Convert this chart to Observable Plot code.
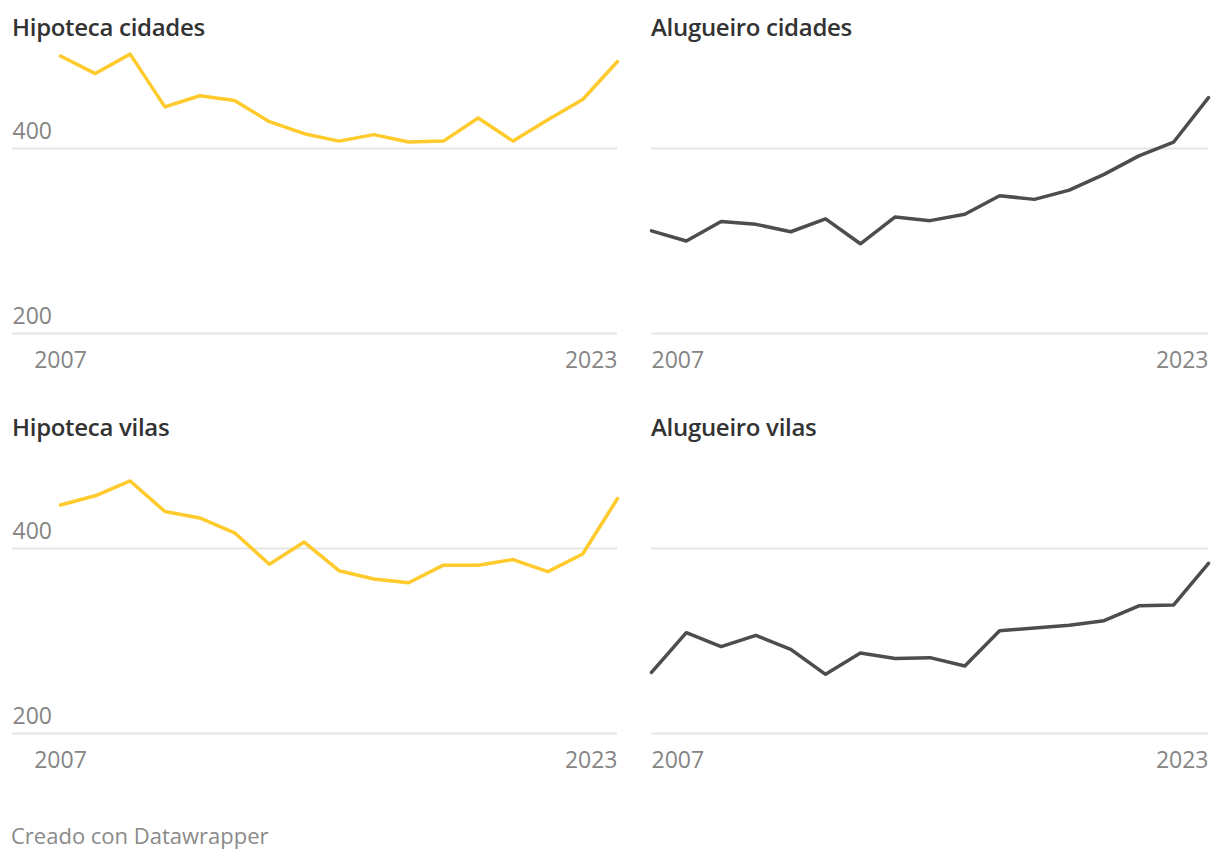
<!DOCTYPE html>
<html>
<head>
<meta charset="utf-8">
<script src="https://cdn.jsdelivr.net/npm/d3@7"></script>
<script src="https://cdn.jsdelivr.net/npm/@observablehq/plot@0.6"></script>
<style>
  body { margin: 0; background: #fff; }
  #root { position: relative; width: 1220px; height: 860px; font-family: "Open Sans", sans-serif; background: #fff; overflow: hidden; }
  .title { position: absolute; font-size: 24px; font-weight: 600; color: #333; line-height: 24px; white-space: nowrap; letter-spacing: -0.3px; }
  .panel { position: absolute; }
  .footer { position: absolute; left: 11px; top: 824px; font-size: 22px; color: #8a8a8a; line-height: 22px; white-space: nowrap; }
</style>
</head>
<body>
<div id="root"></div>
<script>
// ---- data ----
const years = [2007, 2008, 2009, 2010, 2011, 2012, 2013, 2014, 2015, 2016, 2017, 2018, 2019, 2020, 2021, 2022, 2023];
const hipotecaCidades = [500, 481, 502, 445, 457, 452, 429, 416, 408, 415, 407, 408, 433, 408, 431, 453, 494];
const alugueiroCidades = [311, 300, 321, 318, 310, 324, 297, 326, 322, 329, 349, 345, 355, 372, 392, 407, 455];
const hipotecaVilas = [447, 457, 473, 440, 433, 417, 383, 407, 376, 367, 363, 382, 382, 388, 375, 394, 454];
const alugueiroVilas = [266, 309, 294, 306, 291, 264, 287, 281, 282, 273, 311, 314, 317, 322, 338, 339, 384];
const yTicks = [200, 400];
const xTicks = [2007, 2023];
const titles = ["Hipoteca cidades", "Alugueiro cidades", "Hipoteca vilas", "Alugueiro vilas"];
const footerText = "Creado con Datawrapper";
const colors = { hipoteca: "#ffca2c", alugueiro: "#4d4d4d" };

const root = document.getElementById("root");

function addPanel({ title, values, color, left, top, width, xRange, mLeft, mRight, showY, firstAnchor }) {
  const t = document.createElement("div");
  t.className = "title";
  t.textContent = title;
  t.style.left = (left + (showY ? 12 : 31)) + "px";
  t.style.top = (top + 15) + "px";
  root.appendChild(t);

  const data = years.map((year, i) => ({ year, value: values[i] }));
  const chart = Plot.plot({
    width,
    height: 340,
    marginLeft: mLeft,
    marginRight: mRight,
    marginTop: 0,
    marginBottom: 0,
    x: { domain: [2007, 2023], range: xRange, axis: null },
    y: { domain: [200, 400], range: [288, 103], axis: null },
    style: { fontFamily: "Open Sans, sans-serif", background: "transparent", overflow: "visible" },
    marks: [
      Plot.ruleY(yTicks, { stroke: "#e6e6e6", strokeWidth: 2 }),
      showY ? Plot.text(yTicks, { y: d => d, text: d => String(d), frameAnchor: "left", textAnchor: "start", lineAnchor: "bottom", dy: -10, fontSize: 23, fill: "#858585" }) : null,
      Plot.text([xTicks[0]], { x: d => d, y: () => yTicks[0], text: d => String(d), textAnchor: firstAnchor, lineAnchor: "bottom", dy: 34, fontSize: 23, fill: "#858585" }),
      Plot.text([xTicks[1]], { x: d => d, y: () => yTicks[0], text: d => String(d), textAnchor: "end", lineAnchor: "bottom", dy: 34, fontSize: 23, fill: "#858585" }),
      Plot.line(data, { x: "year", y: "value", stroke: color, strokeWidth: 3.5 })
    ]
  });
  const wrap = document.createElement("div");
  wrap.className = "panel";
  wrap.style.left = left + "px";
  wrap.style.top = (top + 45) + "px";
  wrap.appendChild(chart);
  root.appendChild(wrap);
}

const leftCfg = { left: 0, width: 620, xRange: [60, 617], mLeft: 12, mRight: 3, showY: true, firstAnchor: "middle" };
const rightCfg = { left: 620, width: 600, xRange: [31, 588], mLeft: 31, mRight: 12, showY: false, firstAnchor: "start" };

addPanel({ ...leftCfg, top: 0, title: titles[0], values: hipotecaCidades, color: colors.hipoteca });
addPanel({ ...rightCfg, top: 0, title: titles[1], values: alugueiroCidades, color: colors.alugueiro });
addPanel({ ...leftCfg, top: 400, title: titles[2], values: hipotecaVilas, color: colors.hipoteca });
addPanel({ ...rightCfg, top: 400, title: titles[3], values: alugueiroVilas, color: colors.alugueiro });

const f = document.createElement("div");
f.className = "footer";
f.textContent = footerText;
root.appendChild(f);
</script>
</body>
</html>
